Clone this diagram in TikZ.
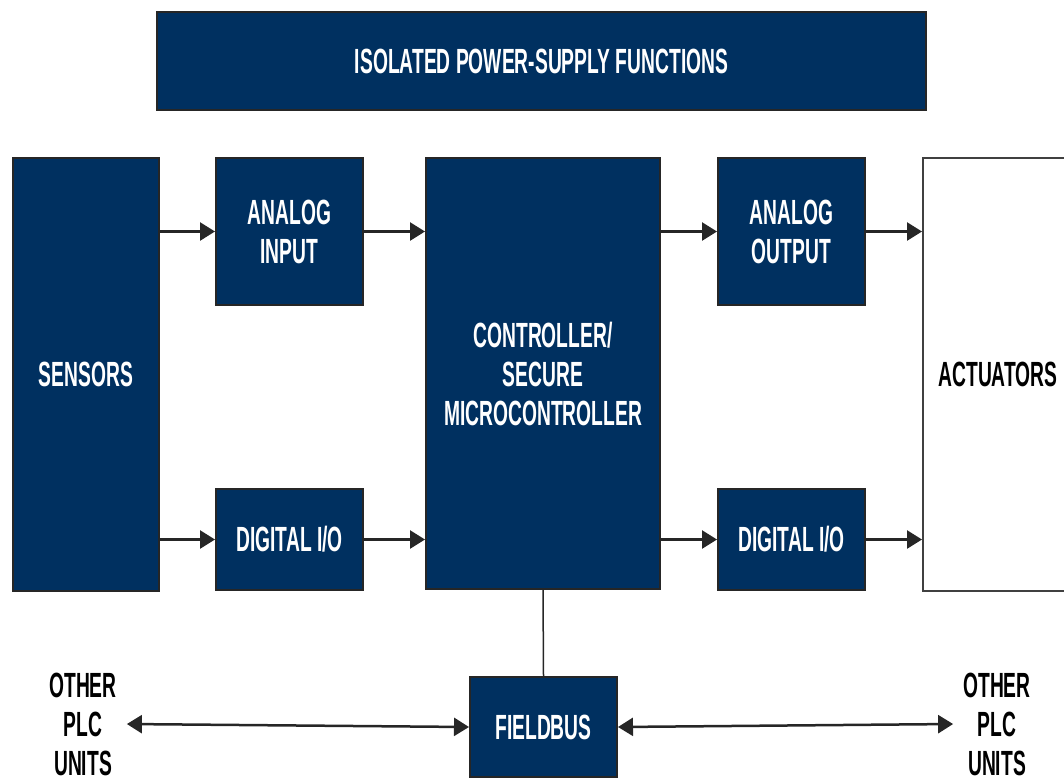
\documentclass[tikz,border=0pt]{standalone}
\usepackage{fontspec}
\setsansfont{Liberation Sans}[FakeStretch=0.55]
\usetikzlibrary{arrows.meta}

\definecolor{plcblue}{RGB}{0,48,96}

\begin{document}
\begin{tikzpicture}[x=1pt, y=-1pt, >={Triangle[length=15pt,width=18pt]},
  blockbox/.style={draw=black!85, line width=2pt, fill=plcblue, text=white,
    font=\sffamily\bfseries\fontsize{35}{39}\selectfont, align=center, inner sep=0pt},
  plainbox/.style={draw=black!75, line width=2pt, fill=white, text=black,
    font=\sffamily\bfseries\fontsize{35}{39}\selectfont, align=center, inner sep=0pt},
  plctext/.style={font=\sffamily\bfseries\fontsize{35}{39}\selectfont, align=center, inner sep=10pt},
  link/.style={line width=2.5pt, black!85}]

% Page
\clip (0,0) rectangle (1064,780);

% Top bar
\node[blockbox, minimum width=769pt, minimum height=98pt] (power) at (541.5,61) {ISOLATED POWER-SUPPLY FUNCTIONS};

% Blocks
\node[blockbox, minimum width=146pt, minimum height=433pt] (sensors) at (86,374.5) {SENSORS};
\node[blockbox, minimum width=147pt, minimum height=147pt] (ain) at (289.5,231.5) {ANALOG\\INPUT};
\node[blockbox, minimum width=147pt, minimum height=101pt] (dinl) at (289.5,539.5) {DIGITAL I/O};
\node[blockbox, minimum width=234pt, minimum height=431pt] (ctrl) at (543,373.5) {CONTROLLER/\\SECURE\\MICROCONTROLLER};
\node[blockbox, minimum width=147pt, minimum height=147pt] (aout) at (791.5,231.5) {ANALOG\\OUTPUT};
\node[blockbox, minimum width=147pt, minimum height=101pt] (dior) at (791.5,539.5) {DIGITAL I/O};
\node[plainbox, minimum width=150pt, minimum height=433pt] (act) at (998,374.5) {ACTUATORS};
\node[blockbox, minimum width=147pt, minimum height=100pt] (fbus) at (543.5,727) {FIELDBUS};

% Other units
\node[plctext] (plcl) at (83,724) {OTHER\\PLC\\UNITS};
\node[plctext] (plcr) at (997,724) {OTHER\\PLC\\UNITS};

% Top row
\draw[link, ->] (sensors.east |- ain.west) -- (ain.west);
\draw[link, ->] (ain.east) -- (ctrl.west |- ain.east);
\draw[link, ->] (ctrl.east |- aout.west) -- (aout.west);
\draw[link, ->] (aout.east) -- (act.west |- aout.east);

% Bottom row
\draw[link, ->] (sensors.east |- dinl.west) -- (dinl.west);
\draw[link, ->] (dinl.east) -- (ctrl.west |- dinl.east);
\draw[link, ->] (ctrl.east |- dior.west) -- (dior.west);
\draw[link, ->] (dior.east) -- (act.west |- dior.east);

% Fieldbus
\draw[line width=1.5pt, black!85] (ctrl.south) -- (fbus.north);
\draw[link, <->] (plcl.east) -- (fbus.west);
\draw[link, <->] (fbus.east) -- (plcr.west);

\end{tikzpicture}
\end{document}
